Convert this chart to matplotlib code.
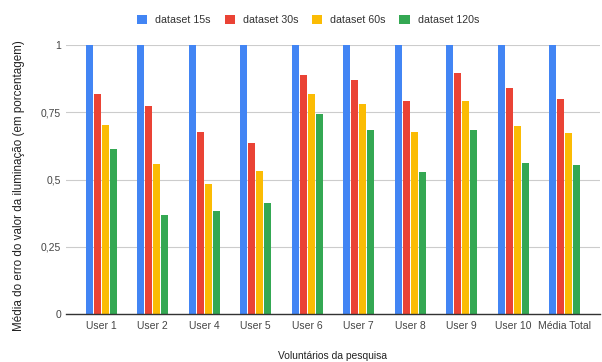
import numpy as np
import matplotlib
matplotlib.use("Agg")
import matplotlib.pyplot as plt
from matplotlib.ticker import FixedLocator

plt.rcParams["font.family"] = ["Liberation Sans", "DejaVu Sans"]

# data
users = ["User 1", "User 2", "User 4", "User 5", "User 6", "User 7",
         "User 8", "User 9", "User 10", "Média Total"]
ds15 = [1, 1, 1, 1, 1, 1, 1, 1, 1, 1]
ds30 = [0.817, 0.773, 0.675, 0.636, 0.888, 0.871, 0.792, 0.896, 0.839, 0.799]
ds60 = [0.704, 0.556, 0.483, 0.530, 0.817, 0.781, 0.675, 0.792, 0.698, 0.672]
ds120 = [0.613, 0.368, 0.382, 0.411, 0.743, 0.684, 0.527, 0.684, 0.560, 0.553]

labels = ["dataset 15s", "dataset 30s", "dataset 60s", "dataset 120s"]
colors = ["#4285F4", "#EA4335", "#FBBC04", "#34A853"]

fig = plt.figure(figsize=(6.02, 3.62), dpi=100)
ax = fig.add_axes([66 / 602, 1 - 314 / 362, 534 / 602, 269 / 362])

x = np.arange(len(users))
step = 0.155
width = 0.135
handles = []
for i, (vals, col) in enumerate(zip([ds15, ds30, ds60, ds120], colors)):
    b = ax.bar(x + (i - 1.5) * step, vals, width, color=col, label=labels[i], zorder=3)
    handles.append(b)

ax.set_xlim(-0.68, len(users) - 1 + 0.68)
ax.set_ylim(0, 1)
ax.yaxis.set_major_locator(FixedLocator([0, 0.25, 0.5, 0.75, 1]))
ax.set_yticklabels(["0", "0,25", "0,5", "0,75", "1"])
ax.set_xticks(x)
ax.set_xticklabels(users)
ax.tick_params(axis="both", length=0, labelsize=7.5, colors="#444444")
ax.tick_params(axis="y", pad=3.6)
ax.tick_params(axis="x", pad=5)

ax.grid(axis="y", color="#cccccc", linewidth=0.8, zorder=0)
for s in ["top", "right", "left"]:
    ax.spines[s].set_visible(False)
ax.spines["bottom"].set_color("#333333")
ax.spines["bottom"].set_linewidth(1)
ax.spines["bottom"].set_zorder(4)

ax.set_ylabel("Média do erro do valor da iluminação (em porcentagem)",
              fontsize=8.4, color="#222222")
ax.yaxis.set_label_coords((25 - 66) / 534, (314 - 186) / 269)
ax.set_xlabel("Voluntários da pesquisa", fontsize=7.4, color="#222222")
ax.xaxis.set_label_coords(0.5, -(356 - 314) / 269)
ax.xaxis.label.set_va("center")

fig.legend(handles=handles, labels=labels, loc="center",
           bbox_to_anchor=(308 / 602, 1 - 20 / 362), ncol=4, frameon=False,
           fontsize=7.7, handlelength=0.94, handleheight=0.94, handletextpad=0.75,
           columnspacing=1.3, labelcolor="#333333")

fig.savefig("out.png", dpi=100)
